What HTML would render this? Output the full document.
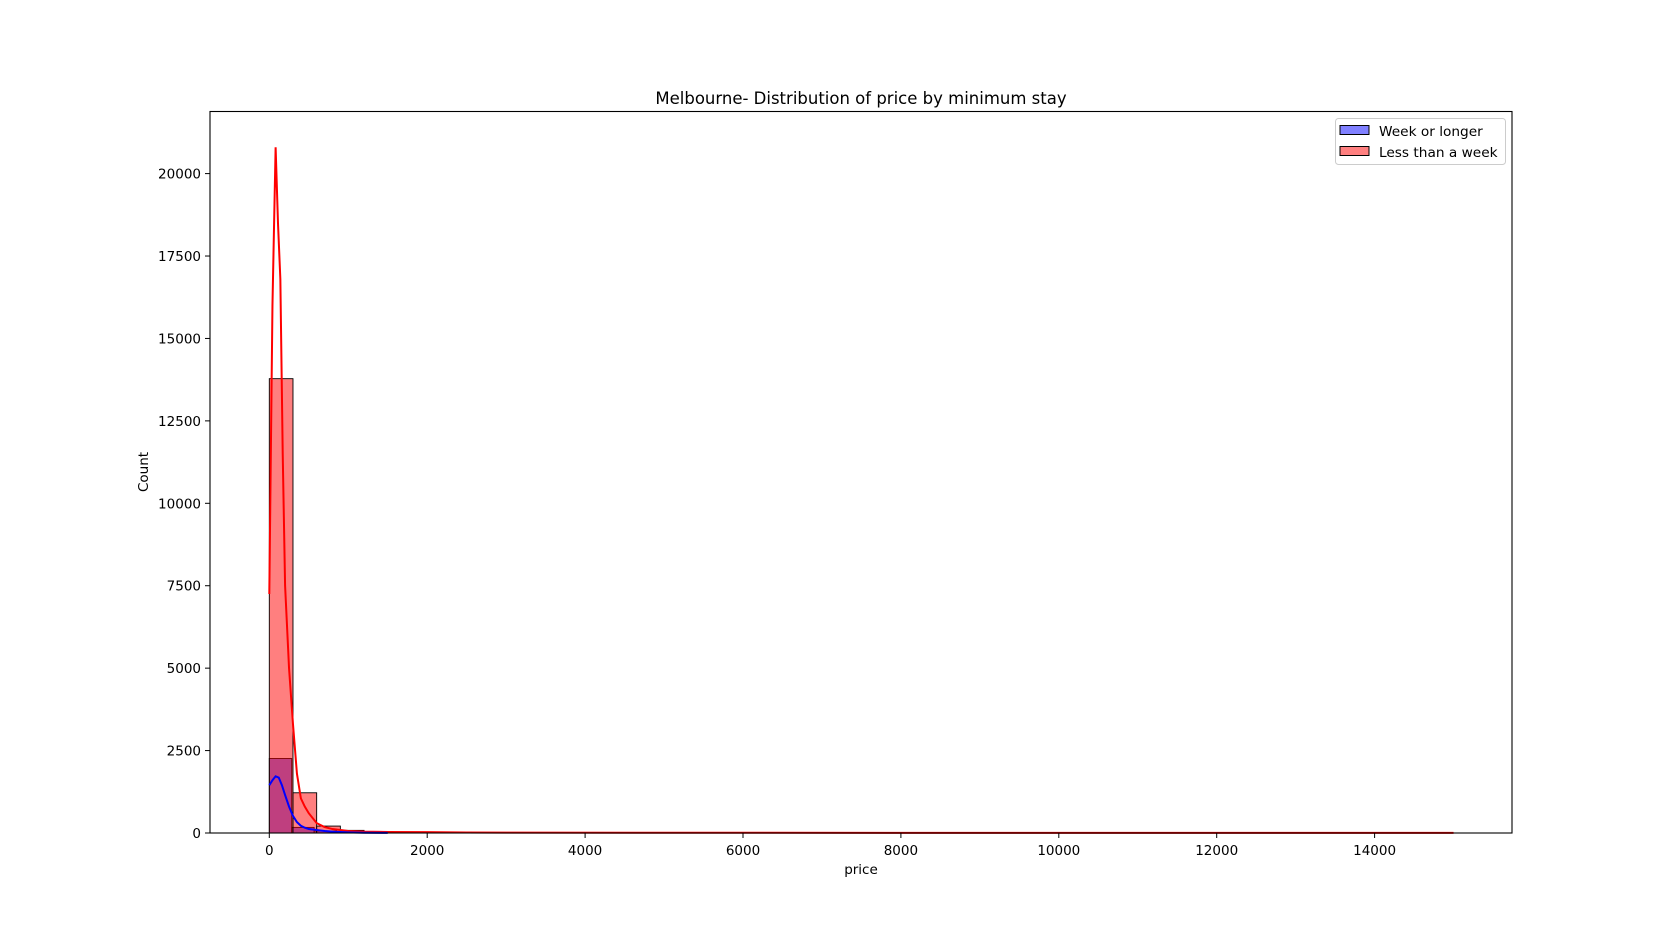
<!DOCTYPE html>
<html><head><meta charset="utf-8"><style>
body{margin:0;background:#fff;}
svg{display:block;font-family:"DejaVu Sans","Liberation Sans",sans-serif;}
</style></head><body>
<svg id="chart" width="1680" height="936">
<text x="861" y="104" font-size="16.5" text-anchor="middle">Melbourne- Distribution of price by minimum stay</text>
<g id="plot"></g>
<rect x="210" y="111.5" width="1302" height="721.5" fill="none" stroke="#000" stroke-width="1.1"/>
<text x="861" y="874" font-size="13.5" text-anchor="middle">price</text>
<text transform="translate(148,472) rotate(-90)" font-size="13.5" text-anchor="middle">Count</text>
<g>
<rect x="1335.5" y="118.5" width="170" height="46" rx="3" fill="#fff" fill-opacity="0.8" stroke="#ccc"/>
<rect x="1340" y="125.5" width="29" height="9" fill="#8080ff" stroke="#000"/>
<text x="1379" y="136" font-size="13.7">Week or longer</text>
<rect x="1340" y="146.5" width="29" height="9" fill="#ff8080" stroke="#000"/>
<text x="1379" y="157" font-size="13.7">Less than a week</text>
</g>
</svg>
<script>
const redCounts=[13780,1220,210,80,30,20,15,10,8,6,5,4,3,3,2,2,1,1,1,1,1,1,1,1,1,1,1,1,1,1,1,1,1,1,1,1,1,1,1,1,1,1,1,1,1,1,1,1,1,1];
const redBinWidth=300;
const blueCounts=[2260,170,60,20,10,6,4,3,2,2,1,1,1,1,1,1,1,1,1,1];
const blueBinWidth=284;
const redKdeX=[0,40,80,110,140,170,200,250,300,350,400,450,500,600,700,800,1000,1200,1500,2000,2500,3000,5000,8000,10000,12000,15000];
const redKdeY=[7250,16000,20800,18500,16800,11500,7500,5000,3300,1800,1050,800,600,300,180,120,60,40,30,25,15,10,8,5,4,3,2];
const blueKdeX=[0,40,80,120,160,200,250,300,350,400,450,500,600,700,800,1000,1200,1500];
const blueKdeY=[1450,1600,1720,1680,1450,1150,800,520,330,220,160,120,90,60,40,20,8,3];
const xTicks=[0,2000,4000,6000,8000,10000,12000,14000];
const yTicks=[0,2500,5000,7500,10000,12500,15000,17500,20000];

const X=v=>269.3+v*0.07895;
const Y=v=>833-v*0.03297;
const NS="http://www.w3.org/2000/svg";
const plot=document.getElementById('plot');
function mk(tag,attrs){const e=document.createElementNS(NS,tag);for(const k in attrs)e.setAttribute(k,attrs[k]);plot.appendChild(e);return e;}

blueCounts.forEach((c,i)=>{
  const x0=X(i*blueBinWidth),x1=X((i+1)*blueBinWidth);
  const r=mk('rect',{x:x0,y:Y(c),width:x1-x0,height:833-Y(c),fill:'#0000ff','fill-opacity':0.5,stroke:'#000','stroke-width':0.9});
  
  
});
redCounts.forEach((c,i)=>{
  const x0=X(i*redBinWidth),x1=X((i+1)*redBinWidth);
  const r=mk('rect',{x:x0,y:Y(c),width:x1-x0,height:833-Y(c),fill:'#ff0000','fill-opacity':0.5,stroke:'#000','stroke-width':0.9});
  
  
});
const rl=mk('polyline',{points:redKdeX.map((x,i)=>X(x)+','+Y(redKdeY[i])).join(' '),fill:'none',stroke:'#ff0000','stroke-width':2});


const bl=mk('polyline',{points:blueKdeX.map((x,i)=>X(x)+','+Y(blueKdeY[i])).join(' '),fill:'none',stroke:'#0000ff','stroke-width':2});



xTicks.forEach(t=>{
  const l=mk('line',{x1:X(t),x2:X(t),y1:833,y2:838,stroke:'#000'});
  
  
  const tx=mk('text',{x:X(t),y:855,'font-size':13.5,'text-anchor':'middle'});
  tx.textContent=t;
  
  
});
yTicks.forEach(t=>{
  const l=mk('line',{x1:205,x2:210,y1:Y(t),y2:Y(t),stroke:'#000'});
  
  
  const tx=mk('text',{x:201,y:Y(t)+5,'font-size':13.5,'text-anchor':'end'});
  tx.textContent=t;
  
  
});
</script>
</body></html>
